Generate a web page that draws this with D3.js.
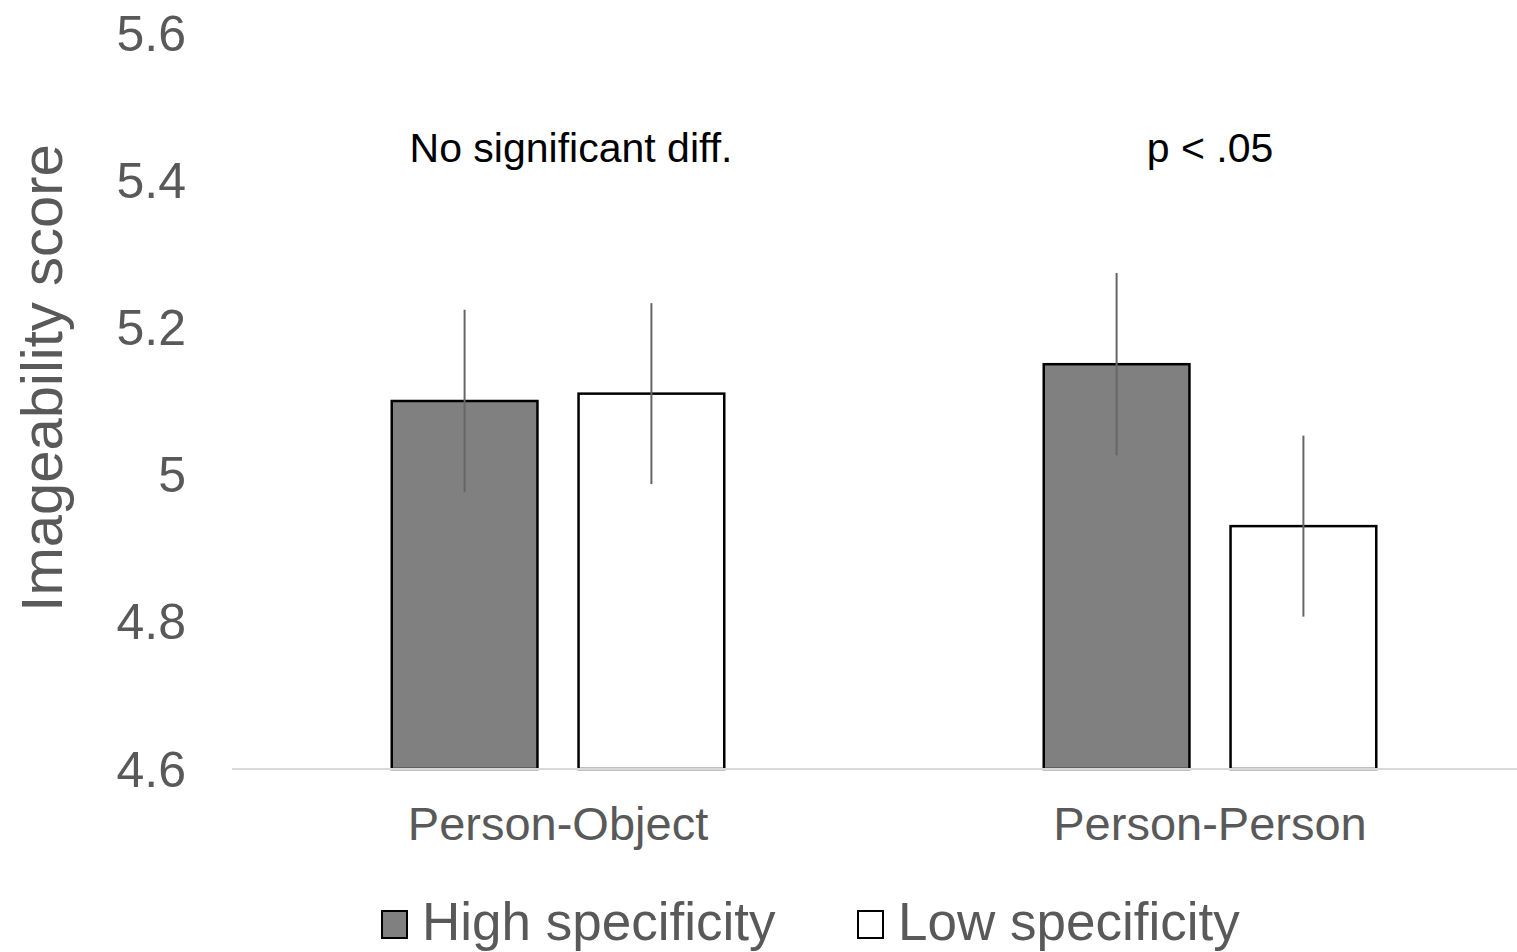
<!DOCTYPE html>
<html>
<head>
<meta charset="utf-8">
<script src="https://cdn.jsdelivr.net/npm/d3@7"></script>
<style>
  body { margin: 0; background: #fff; }
  svg { display: block; font-family: "Liberation Sans", Arial, sans-serif; }
</style>
</head>
<body>
<svg id="svg"></svg>
<script>
const categories = ["Person-Object", "Person-Person"];
const seriesNames = ["High specificity", "Low specificity"];
const highValues = [5.10, 5.15];
const lowValues = [5.11, 4.93];
const highErrors = [0.124, 0.124];
const lowErrors = [0.123, 0.123];
const yTicks = [4.6, 4.8, 5, 5.2, 5.4, 5.6];
const annotations = ["No significant diff.", "p < .05"];

const width = 1517, height = 952;
const seriesFill = ["#808080", "#ffffff"];

const svg = d3.select('#svg')
  .attr('width', width)
  .attr('height', height);

const y = d3.scaleLinear().domain([4.6, 5.6]).range([769, 33]);

// the plot runs past the right edge of the picture
const x0 = d3.scaleBand()
  .domain(categories)
  .range([232, 1536])
  .paddingInner(0.49)
  .paddingOuter(0.245);

const x1 = d3.scaleBand()
  .domain(seriesNames)
  .range([0, x0.bandwidth()])
  .paddingInner(0.22);

// y tick labels (no gridlines)
svg.append('g')
  .selectAll('text')
  .data(yTicks)
  .enter()
  .append('text')
    .attr('x', 186)
    .attr('y', d => y(d))
    .attr('dy', '0.35em')
    .attr('text-anchor', 'end')
    .attr('font-size', '50px')
    .attr('fill', '#595959')
    .text(d => d3.format('~g')(d));

// axis title
svg.append('text')
  .attr('transform', 'translate(62,378) rotate(-90)')
  .attr('text-anchor', 'middle')
  .attr('font-size', '58px')
  .attr('fill', '#595959')
  .text('Imageability score');

const rows = [];
categories.forEach((c, i) => {
  rows.push({cat: c, s: 0, value: highValues[i], err: highErrors[i]});
  rows.push({cat: c, s: 1, value: lowValues[i], err: lowErrors[i]});
});

svg.append('g')
  .selectAll('rect')
  .data(rows)
  .enter()
  .append('rect')
    .attr('x', d => x0(d.cat) + x1(seriesNames[d.s]))
    .attr('y', d => y(d.value))
    .attr('width', x1.bandwidth())
    .attr('height', d => y(4.6) - y(d.value))
    .attr('fill', d => seriesFill[d.s])
    .attr('stroke', '#000')
    .attr('stroke-width', 2.5);

// baseline
svg.append('line')
  .attr('x1', 232).attr('x2', width)
  .attr('y1', y(4.6)).attr('y2', y(4.6))
  .attr('stroke', '#d9d9d9')
  .attr('stroke-width', 2);

// error bars, no caps
svg.append('g')
  .selectAll('line')
  .data(rows)
  .enter()
  .append('line')
    .attr('x1', d => x0(d.cat) + x1(seriesNames[d.s]) + x1.bandwidth() / 2)
    .attr('x2', d => x0(d.cat) + x1(seriesNames[d.s]) + x1.bandwidth() / 2)
    .attr('y1', d => y(d.value + d.err))
    .attr('y2', d => y(d.value - d.err))
    .attr('stroke', '#666')
    .attr('stroke-width', 2);

// category labels
svg.append('g')
  .selectAll('text')
  .data(categories)
  .enter()
  .append('text')
    .attr('x', d => x0(d) + x0.bandwidth() / 2)
    .attr('y', 840)
    .attr('text-anchor', 'middle')
    .attr('font-size', '47px')
    .attr('fill', '#595959')
    .text(d => d);

// significance notes
const noteShift = [13, 0];
svg.append('g')
  .selectAll('text')
  .data(annotations)
  .enter()
  .append('text')
    .attr('x', (d, i) => x0(categories[i]) + x0.bandwidth() / 2 + noteShift[i])
    .attr('y', 162)
    .attr('text-anchor', 'middle')
    .attr('font-size', '41px')
    .attr('fill', '#000')
    .text(d => d);

// legend
const legendX = [382, 858];
const legend = svg.append('g')
  .selectAll('g')
  .data(seriesNames)
  .enter()
  .append('g')
    .attr('transform', (d, i) => `translate(${legendX[i]},911)`);

legend.append('rect')
  .attr('width', 25)
  .attr('height', 27)
  .attr('fill', (d, i) => seriesFill[i])
  .attr('stroke', '#000')
  .attr('stroke-width', 2);

legend.append('text')
  .attr('x', 40)
  .attr('y', 29)
  .attr('font-size', '53px')
  .attr('fill', '#595959')
  .text(d => d);
</script>
</body>
</html>
